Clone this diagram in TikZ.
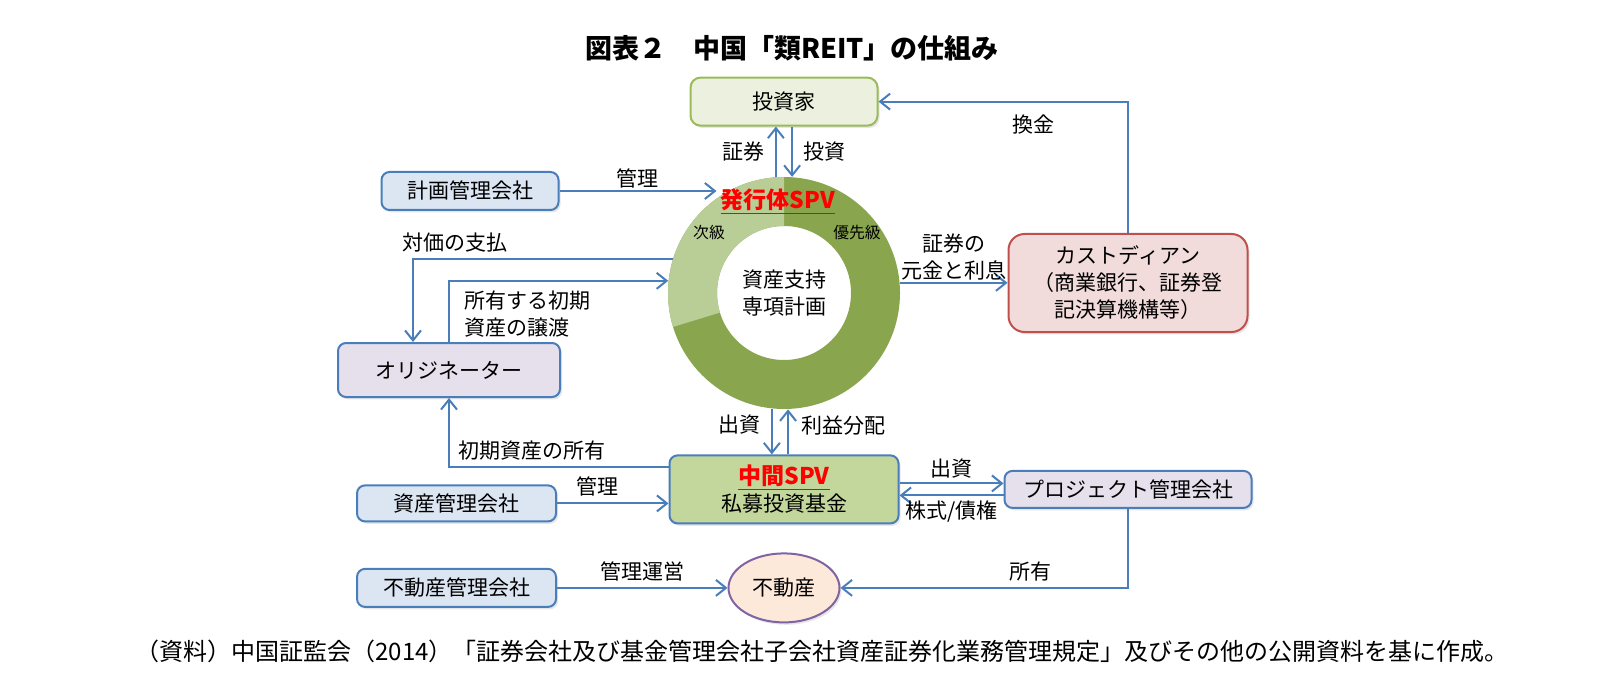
\documentclass[tikz,border=0pt]{standalone}
\usepackage{fontspec}
\setmainfont{Noto Sans CJK JP}
\usepackage{xcolor}
\usetikzlibrary{arrows.meta, positioning, shapes.geometric, backgrounds, shadows}

\definecolor{lineblue}{HTML}{4A7EBB}
\definecolor{boxblue}{HTML}{DCE6F2}
\definecolor{boxlilac}{HTML}{E5E0EC}
\definecolor{invfill}{HTML}{EBF1DE}
\definecolor{invdraw}{HTML}{9BBB59}
\definecolor{custfill}{HTML}{F2DCDB}
\definecolor{custdraw}{HTML}{C0504D}
\definecolor{fundfill}{HTML}{C3D69B}
\definecolor{estatefill}{HTML}{FDE9D9}
\definecolor{estatedraw}{HTML}{8064A2}
\definecolor{donutlight}{HTML}{B9CD96}
\definecolor{donutdark}{HTML}{89A64E}
\definecolor{spvred}{HTML}{FF0000}

\newcommand{\redtitle}[1]{\textcolor{spvred}{\underline{\bfseries #1}}}

\begin{document}
\begin{tikzpicture}[
    x=0.5pt, y=-0.5pt,
    base/.style={rectangle, draw=lineblue, line width=1pt, rounded corners=4pt, align=center, inner sep=2pt, font=\fontsize{10.5pt}{13.5pt}\selectfont, drop shadow={shadow xshift=1pt, shadow yshift=-1.2pt, opacity=0.2}},
    mgmt/.style={base, fill=boxblue, minimum width=99.5pt},
    party/.style={base, fill=boxlilac},
    invest/.style={base, draw=invdraw, fill=invfill, rounded corners=5pt},
    cust/.style={base, draw=custdraw, fill=custfill, rounded corners=8pt},
    fund/.style={base, fill=fundfill},
    estate/.style={ellipse, draw=estatedraw, line width=1pt, fill=estatefill, minimum width=55.5pt, minimum height=34.5pt, inner sep=0pt, font=\fontsize{10.5pt}{13.5pt}\selectfont, drop shadow={shadow xshift=1pt, shadow yshift=-1.2pt, opacity=0.2}},
    donut/.style={circle, minimum size=116pt, inner sep=0pt, align=center, font=\fontsize{10.5pt}{13.5pt}\selectfont},
    arrow/.style={-{Straight Barb[length=5pt, width=8pt]}, line width=1pt, lineblue},
    lbl/.style={text=black, font=\fontsize{10.5pt}{13.5pt}\selectfont, inner sep=1pt},
    tier/.style={font=\fontsize{7.9pt}{9pt}\selectfont, inner sep=0pt},
]
\useasboundingbox (0,0) rectangle (1617,684);

% Nodes
\node[donut] (spv) at (784,293) {資産支持\\専項計画};
\node[invest, minimum width=93.5pt, minimum height=24pt, above=25pt of spv] (inv) {投資家};
\node[fund, minimum width=114.5pt, minimum height=34pt, below=22.5pt of spv] (mid) {{\fontsize{11.5pt}{13.5pt}\selectfont\redtitle{中間SPV}}\\私募投資基金};
\node[party, minimum width=123.5pt, minimum height=18.5pt, right=52pt of mid] (proj) {プロジェクト管理会社};
\node[estate, below=14pt of mid] (re) {不動産};
\node[mgmt, minimum height=19pt, left=85.25pt of re] (prop) {不動産管理会社};
\node[mgmt, minimum height=18pt, above=22.75pt of prop] (asset) {資産管理会社};
\node[party, minimum width=111pt, minimum height=27pt] (orig) at (449,370) {オリジネーター};
\node[mgmt, minimum width=88.5pt, minimum height=19pt] (plan) at (470,191) {計画管理会社};
\node[cust, minimum width=119.5pt, minimum height=49pt] (cust) at (1128,283) {カストディアン\\（商業銀行、証券登\\記決算機構等）};

% Donut rings
\begin{scope}[on background layer]
    \fill[donutdark, even odd rule] (spv.center) circle[radius=58pt] circle[radius=33.5pt];
    \fill[donutlight] (spv.center) ++(90:58pt) arc[start angle=90, end angle=197, radius=58pt] -- ++(17:24.5pt) arc[start angle=197, end angle=90, radius=33.5pt] -- cycle;
\end{scope}
\node[inner sep=2pt] (spvname) at (778,202) {\fontsize{11.5pt}{13pt}\selectfont\redtitle{発行体SPV}};
\node[tier] (junior) at (709,233) {次級};
\node[tier] (senior) at (857,233) {優先級};

% Title and source
\node[font=\fontsize{13.5pt}{16pt}\selectfont\bfseries] (title) at (792,48) {図表２　中国「類REIT」の仕組み};
\node[lbl, font=\fontsize{12pt}{14pt}\selectfont] (note) at (822,651) {（資料）中国証監会（2014）「証券会社及び基金管理会社子会社資産証券化業務管理規定」及びその他の公開資料を基に作成。};

% Arrows — issuer SPV, investors, custodian
\draw[arrow] (spv.94) -- (spv.94 |- inv.south) node[lbl, midway, left=4pt] {証券};
\draw[arrow] (spv.86 |- inv.south) -- (spv.86) node[lbl, midway, right=4pt] {投資};
\draw[arrow] (cust.north) |- (inv.east) node[lbl, pos=0.69, below=5pt] {換金};
\draw[arrow] (spv.5) -- (spv.5 -| cust.west) node[lbl, midway, above, align=center] {証券の\\元金と利息};
\draw[arrow] (plan.east) -- (plan.east -| spvname.west) node[lbl, midway, above] {管理};

% Arrows — originator
\draw[arrow] (spv.163) -| ([xshift=-18pt]orig.north) node[lbl, pos=0.42, above=2pt] {対価の支払};
\draw[arrow] (orig.north) |- (spv.174) node[lbl, pos=0.23, right=6pt, align=left] {所有する初期\\資産の譲渡};
\draw[arrow] ([yshift=11pt]mid.west) -| (orig.south) node[lbl, pos=0.31, above=2pt] {初期資産の所有};

% Arrows — intermediate SPV
\draw[arrow] (spv.264) -- (spv.264 |- mid.north) node[lbl, pos=0.35, left=4pt] {出資};
\draw[arrow] (spv.272 |- mid.north) -- (spv.272) node[lbl, pos=0.65, right=5pt] {利益分配};
\draw[arrow] (asset.east) -- (asset.east -| mid.west) node[lbl, pos=0.36, above=2pt] {管理};
\draw[arrow] ([yshift=3pt]mid.east) -- ([yshift=3pt]mid.east -| proj.west) node[lbl, midway, above=1pt] {出資};
\draw[arrow] ([yshift=-3pt]proj.west) -- ([yshift=-3pt]proj.west -| mid.east) node[lbl, midway, below=1pt] {株式/債権};

% Arrows — real estate
\draw[arrow] (prop.east) -- (re.west) node[lbl, midway, above=2pt] {管理運営};
\draw[arrow] (proj.south) |- (re.east) node[lbl, pos=0.67, above=2pt] {所有};

\end{tikzpicture}
\end{document}
